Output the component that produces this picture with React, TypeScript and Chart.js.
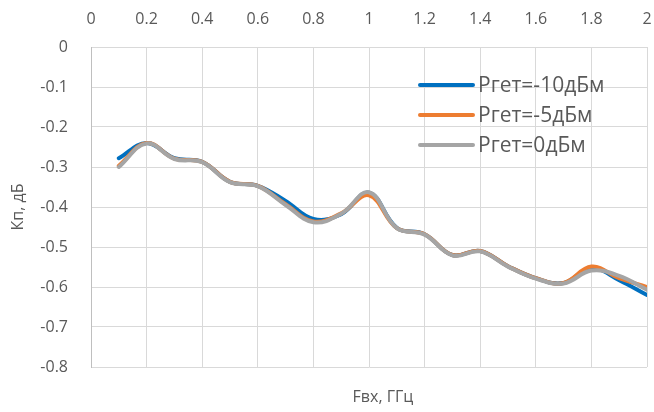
import React, { useEffect, useRef } from "react";
import { Chart, registerables } from "chart.js";

Chart.register(...registerables);

const freqs = [0.1, 0.2, 0.3, 0.4, 0.5, 0.6, 0.7, 0.8, 0.9, 1.0, 1.1, 1.2, 1.3, 1.4, 1.5, 1.6, 1.7, 1.8, 1.9, 2.0];
const seriesM10 = [-0.278, -0.24, -0.278, -0.287, -0.337, -0.347, -0.385, -0.43, -0.418, -0.364, -0.452, -0.468, -0.52, -0.51, -0.548, -0.578, -0.59, -0.553, -0.583, -0.62];
const seriesM5 = [-0.297, -0.24, -0.279, -0.287, -0.337, -0.347, -0.393, -0.436, -0.416, -0.371, -0.453, -0.468, -0.52, -0.51, -0.548, -0.578, -0.59, -0.549, -0.578, -0.6];
const series0 = [-0.3, -0.241, -0.28, -0.288, -0.338, -0.348, -0.395, -0.438, -0.417, -0.363, -0.453, -0.469, -0.521, -0.511, -0.549, -0.579, -0.591, -0.559, -0.572, -0.607];
const seriesLabels = ["Pгет=-10дБм", "Pгет=-5дБм", "Pгет=0дБм"];
const seriesColors = ["#0070C0", "#ED7D31", "#A5A5A5"];
const xTitle = "Fвх, ГГц";
const yTitle = "Кп, дБ";

const FONT = "'Open Sans', 'DejaVu Sans', sans-serif";
const TEXT = "#595959";

const overlayPlugin = {
  id: "overlay",
  afterDraw(chart: any) {
    const ctx = chart.ctx;
    const area = chart.chartArea;
    ctx.save();
    // legend
    const lx = area.left + 329;
    const ly = area.top + 38;
    chart.data.datasets.forEach((ds: any, i: number) => {
      const y = ly + i * 30;
      ctx.strokeStyle = ds.borderColor;
      ctx.lineWidth = 4;
      ctx.lineCap = "round";
      ctx.beginPath();
      ctx.moveTo(lx, y);
      ctx.lineTo(lx + 53, y);
      ctx.stroke();
      ctx.fillStyle = TEXT;
      ctx.font = "21px " + FONT;
      ctx.textAlign = "left";
      ctx.textBaseline = "middle";
      ctx.fillText(ds.label, lx + 58, y + 1);
    });
    // axis titles
    ctx.fillStyle = TEXT;
    ctx.font = "16px " + FONT;
    ctx.textAlign = "center";
    ctx.textBaseline = "middle";
    ctx.fillText(xTitle, area.left + 292, area.bottom + 30);
    ctx.translate(18, (area.top + area.bottom) / 2);
    ctx.rotate(-Math.PI / 2);
    ctx.fillText(yTitle, 0, 0);
    ctx.restore();
  },
};

export default function App() {
  const ref = useRef<HTMLCanvasElement | null>(null);
  useEffect(() => {
    if (!ref.current) return;
    const values = [seriesM10, seriesM5, series0];
    const chart = new Chart(ref.current, {
      type: "line",
      data: {
        datasets: values.map((vals, i) => ({
          label: seriesLabels[i],
          data: freqs.map((f, j) => ({ x: f, y: vals[j] })),
          borderColor: seriesColors[i],
          backgroundColor: seriesColors[i],
          borderWidth: 4,
          borderCapStyle: "round",
          borderJoinStyle: "round",
          pointRadius: 0,
          tension: 0.4,
          fill: false,
          order: 2 - i,
        })),
      },
      options: {
        responsive: false,
        animation: false,
        layout: { padding: { left: 0, top: 0, right: 7, bottom: 45 } },
        plugins: {
          legend: { display: false },
          tooltip: { enabled: false },
        },
        scales: {
          x: {
            type: "linear",
            position: "top",
            min: 0,
            max: 2,
            ticks: {
              stepSize: 0.2,
              color: TEXT,
              font: { family: FONT, size: 16 },
              padding: 18,
              maxRotation: 0,
              autoSkip: false,
              callback: (v: any) => String(Math.round(Number(v) * 10) / 10),
            },
            grid: { color: "#D9D9D9", lineWidth: 1, drawTicks: false },
            border: { display: true, color: "#D9D9D9" },
            afterFit: (s: any) => {
              s.height = 47;
              s.paddingLeft = 0;
              s.paddingRight = 0;
            },
          },
          y: {
            min: -0.8,
            max: 0,
            ticks: {
              stepSize: 0.1,
              color: TEXT,
              font: { family: FONT, size: 16 },
              padding: 23,
              callback: (v: any) => String(Math.round(Number(v) * 10) / 10),
            },
            grid: { color: "#D9D9D9", lineWidth: 1, drawTicks: false },
            border: { display: true, color: "#BFBFBF" },
            afterFit: (s: any) => {
              s.width = 91;
              s.paddingTop = 0;
              s.paddingBottom = 0;
            },
          },
        },
      },
      plugins: [overlayPlugin],
    } as any);
    return () => chart.destroy();
  }, []);
  return (
    <div style={{ position: "absolute", left: 0, top: 0, width: 654, height: 412, background: "#fff" }}>
      <canvas ref={ref} width={654} height={412} />
    </div>
  );
}
